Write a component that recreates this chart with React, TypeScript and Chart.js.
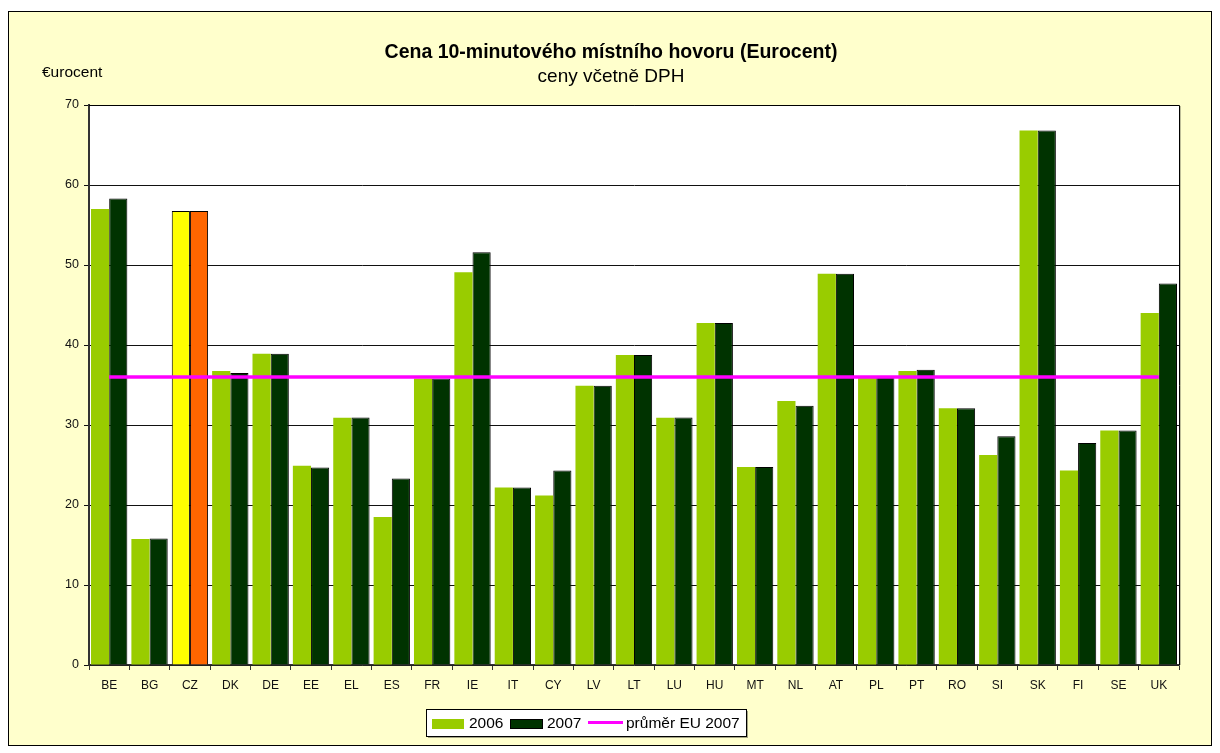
import React, { useEffect, useRef } from "react";
import { Chart, registerables } from "chart.js";

Chart.register(...registerables);

const categories = ["BE","BG","CZ","DK","DE","EE","EL","ES","FR","IE","IT","CY","LV","LT","LU","HU","MT","NL","AT","PL","PT","RO","SI","SK","FI","SE","UK"];
const values2006 = [57.0,15.75,56.75,36.75,38.9,24.9,30.9,18.5,35.8,49.1,22.2,21.2,34.9,38.75,30.9,42.75,24.75,33.0,48.9,36.1,36.75,32.1,26.25,66.8,24.3,29.3,44.0];
const values2007 = [58.3,15.8,56.75,36.5,38.9,24.7,30.95,23.3,35.8,51.6,22.2,24.3,34.9,38.75,30.95,42.75,24.75,32.4,48.9,36.1,36.9,32.1,28.6,66.8,27.75,29.3,47.7];
const avgEU2007 = [36,36,36,36,36,36,36,36,36,36,36,36,36,36,36,36,36,36,36,36,36,36,36,36,36,36,36];
const yTicks = [0,10,20,30,40,50,60,70];

const TITLE = "Cena 10-minutového místního hovoru (Eurocent)";
const SUBTITLE = "ceny včetně DPH";
const Y_UNIT = "€urocent";
const LEGEND_LABELS = ["2006", "2007", "průměr EU 2007"];
const HIGHLIGHT = "CZ";

const FONT = "'Liberation Sans', Arial, sans-serif";
const LIME = "#99CC00";
const DARK = "#003300";
const MAGENTA = "#FF00FF";
const BG_YELLOW = "#FFFFCC";

const decorPlugin = {
  id: "decor",
  beforeDraw(chart: any) {
    const { ctx, chartArea } = chart;
    ctx.save();
    ctx.fillStyle = "#ffffff";
    ctx.fillRect(0, 0, chart.width, chart.height);
    ctx.fillStyle = BG_YELLOW;
    ctx.fillRect(8, 11, 1204, 735);
    ctx.strokeStyle = "#000";
    ctx.lineWidth = 1;
    ctx.strokeRect(8.5, 11.5, 1203, 734);
    ctx.fillStyle = "#ffffff";
    ctx.fillRect(chartArea.left, chartArea.top, chartArea.right - chartArea.left, chartArea.bottom - chartArea.top);
    ctx.restore();
  },
  afterDraw(chart: any) {
    const { ctx, chartArea } = chart;
    ctx.save();
    // plot frame top & right
    ctx.strokeStyle = "#000";
    ctx.lineWidth = 1;
    ctx.beginPath();
    ctx.moveTo(chartArea.left, chartArea.top + 0.5);
    ctx.lineTo(chartArea.right + 0.5, chartArea.top + 0.5);
    ctx.lineTo(chartArea.right + 0.5, chartArea.bottom);
    ctx.stroke();
    ctx.strokeStyle = "rgba(0,0,0,0.25)";
    ctx.beginPath();
    ctx.moveTo(chartArea.right + 1.5, chartArea.top + 1);
    ctx.lineTo(chartArea.right + 1.5, chartArea.bottom);
    ctx.stroke();

    // titles
    ctx.fillStyle = "#000";
    ctx.textAlign = "center";
    ctx.textBaseline = "alphabetic";
    ctx.font = `bold 19.5px ${FONT}`;
    ctx.fillText(TITLE, 611, 58);
    ctx.font = `19px ${FONT}`;
    ctx.fillText(SUBTITLE, 611, 82);

    // y unit
    ctx.textAlign = "left";
    ctx.font = `15.5px ${FONT}`;
    ctx.fillText(Y_UNIT, 42, 77);

    // legend
    const bx = 426, by = 709, bw = 320, bh = 27;
    ctx.fillStyle = "rgba(0,0,0,0.35)";
    ctx.fillRect(bx + 2, by + 2, bw, bh);
    ctx.fillStyle = "#fff";
    ctx.fillRect(bx, by, bw, bh);
    ctx.strokeStyle = "#000";
    ctx.lineWidth = 1;
    ctx.strokeRect(bx + 0.5, by + 0.5, bw, bh);

    ctx.fillStyle = LIME;
    ctx.fillRect(432, 719, 32, 10);
    ctx.fillStyle = DARK;
    ctx.fillRect(510, 719, 33, 10);
    ctx.strokeStyle = "#000";
    ctx.strokeRect(510.5, 719.5, 32, 9);
    ctx.strokeStyle = MAGENTA;
    ctx.lineWidth = 3;
    ctx.beginPath();
    ctx.moveTo(588, 722.5);
    ctx.lineTo(623, 722.5);
    ctx.stroke();

    ctx.fillStyle = "#000";
    ctx.font = `15.5px ${FONT}`;
    ctx.textAlign = "left";
    ctx.fillText(LEGEND_LABELS[0], 469, 728);
    ctx.fillText(LEGEND_LABELS[1], 547, 728);
    ctx.fillText(LEGEND_LABELS[2], 626, 728);
    ctx.restore();
  },
};

export default function App() {
  const canvasRef = useRef<HTMLCanvasElement | null>(null);

  useEffect(() => {
    if (!canvasRef.current) return;
    const idx = categories.indexOf(HIGHLIGHT);
    const chart = new Chart(canvasRef.current, {
      type: "bar",
      data: {
        labels: categories,
        datasets: [
          {
            type: "line",
            label: LEGEND_LABELS[2],
            data: avgEU2007,
            borderColor: MAGENTA,
            borderWidth: 3.5,
            pointRadius: 0,
            fill: false,
            order: 0,
            tension: 0,
          } as any,
          {
            label: LEGEND_LABELS[0],
            data: values2006,
            backgroundColor: categories.map((_, i) => (i === idx ? "#FFFF00" : LIME)),
            borderColor: categories.map((_, i) => (i === idx ? "#000" : LIME)),
            borderWidth: categories.map((_, i) => (i === idx ? 1 : 0)),
            categoryPercentage: 0.9,
            barPercentage: 1.0,
            order: 1,
          },
          {
            label: LEGEND_LABELS[1],
            data: values2007,
            backgroundColor: categories.map((_, i) => (i === idx ? "#FF6600" : DARK)),
            borderColor: "#000",
            borderWidth: 1,
            categoryPercentage: 0.9,
            barPercentage: 1.0,
            order: 1,
          },
        ],
      },
      options: {
        responsive: false,
        animation: false,
        devicePixelRatio: 1,
        layout: { padding: { left: 0, top: 105, right: 41, bottom: 0 } },
        plugins: {
          legend: { display: false },
          title: { display: false },
          tooltip: { enabled: false },
        },
        scales: {
          x: {
            offset: true,
            grid: {
              offset: true,
              drawOnChartArea: false,
              drawTicks: true,
              tickLength: 5,
              color: "#333",
            },
            border: { display: true, color: "#333", width: 1.5 },
            ticks: {
              autoSkip: false,
              maxRotation: 0,
              minRotation: 0,
              padding: 8,
              color: "#111",
              font: { family: FONT, size: 12 },
            },
            afterFit: (scale: any) => {
              scale.height = 88;
            },
          },
          y: {
            min: 0,
            max: 70,
            afterBuildTicks: (scale: any) => {
              scale.ticks = yTicks.map((v) => ({ value: v }));
            },
            grid: {
              color: "#111",
              lineWidth: 1,
              drawTicks: true,
              tickLength: 5,
            },
            border: { display: true, color: "#333", width: 2 },
            ticks: {
              padding: 5,
              color: "#111",
              font: { family: FONT, size: 12.5 },
            },
            afterFit: (scale: any) => {
              scale.width = 89;
            },
          },
        },
      },
      plugins: [decorPlugin],
    });
    return () => chart.destroy();
  }, []);

  return (
    <div style={{ position: "fixed", left: 0, top: 0, width: 1220, height: 753 }}>
      <canvas ref={canvasRef} width={1220} height={753} style={{ display: "block" }} />
    </div>
  );
}
